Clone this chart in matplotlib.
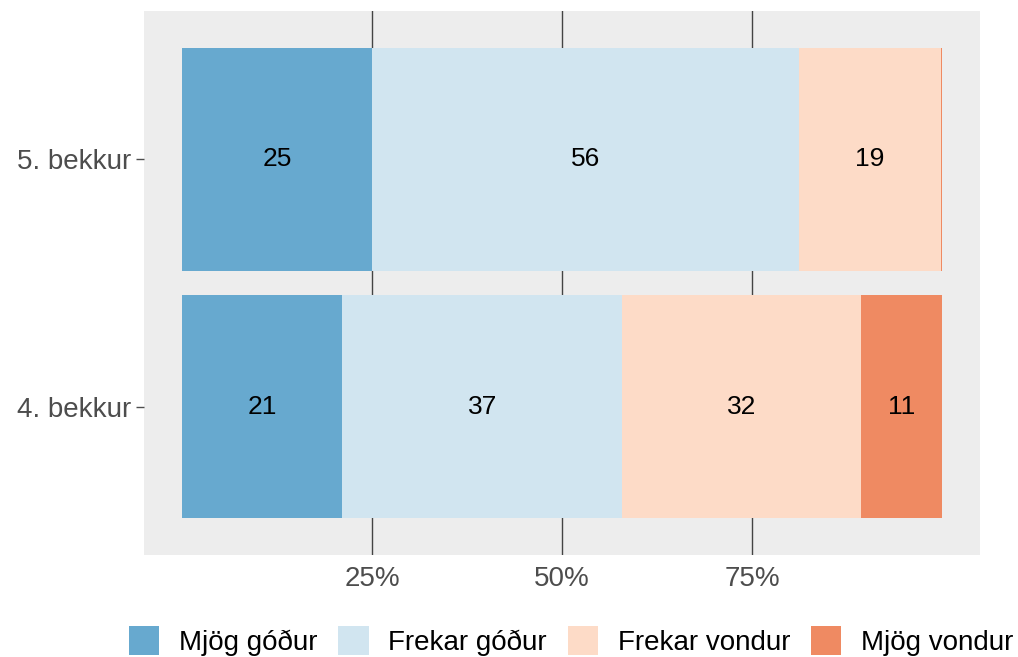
import matplotlib.pyplot as plt
from matplotlib.patches import Patch

plt.rcParams["font.family"] = ["Liberation Sans", "DejaVu Sans"]

grades = ["4. bekkur", "5. bekkur"]
answers = ["Mjög góður", "Frekar góður", "Frekar vondur", "Mjög vondur"]
colors = ["#67A9CF", "#D1E5F0", "#FDDBC7", "#EF8A62"]

# percent per answer, one list per grade (same order as grades)
mjog_godur = [21.1, 25.0]
frekar_godur = [36.8, 56.2]
frekar_vondur = [31.5, 18.65]
mjog_vondur = [10.6, 0.15]
series = [mjog_godur, frekar_godur, frekar_vondur, mjog_vondur]

x_ticks = [25, 50, 75]
x_ticklabels = ["25%", "50%", "75%"]


def main():
    fig = plt.figure(figsize=(10.18, 6.57), dpi=100)
    ax = fig.add_axes([144 / 1018, 1 - 555 / 657, 836 / 1018, 544 / 657])
    ax.set_facecolor("#EDEDED")

    ypos = [1, 2]
    left = [0.0, 0.0]
    for vals, col in zip(series, colors):
        ax.barh(ypos, vals, left=left, height=0.9, color=col, zorder=2)
        for y, l, v in zip(ypos, left, vals):
            if v >= 1:
                ax.text(l + v / 2, y, f"{v:.0f}", ha="center", va="center",
                        fontsize=19, color="black", zorder=3)
        left = [a + b for a, b in zip(left, vals)]

    ax.set_xlim(-5, 105)
    ax.set_ylim(0.4, 2.6)
    ax.set_xticks(x_ticks)
    ax.set_xticklabels(x_ticklabels)
    ax.set_yticks(ypos)
    ax.set_yticklabels(grades)
    ax.tick_params(axis="x", length=0, pad=8, labelsize=20, labelcolor="#4D4D4D")
    ax.tick_params(axis="y", length=6, width=1, color="#4D4D4D", pad=3,
                   labelsize=20, labelcolor="#4D4D4D")
    ax.grid(axis="x", color="#444444", linewidth=1, zorder=1)
    ax.grid(axis="y", visible=False)
    ax.set_axisbelow(True)
    for s in ax.spines.values():
        s.set_visible(False)

    handles = [Patch(facecolor=c, edgecolor="none") for c in colors]
    fig.legend(handles, answers, loc="center", ncol=4,
               bbox_to_anchor=(571 / 1018, 1 - 641 / 657), frameon=False,
               fontsize=20, handlelength=1.1, handleheight=1.2,
               handletextpad=0.7, columnspacing=0.75, borderpad=0)

    fig.savefig("out.png", dpi=100)


if __name__ == "__main__":
    main()
